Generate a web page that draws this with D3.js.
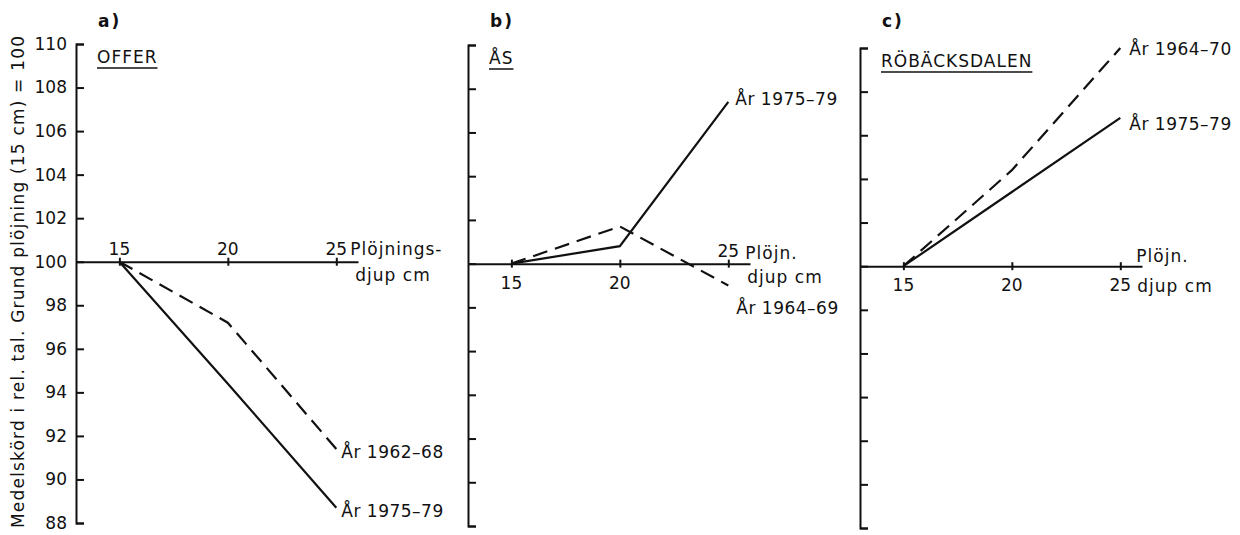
<!DOCTYPE html>
<html><head><meta charset="utf-8">
<script src="https://cdn.jsdelivr.net/npm/d3@7/dist/d3.min.js"></script>
<style>
body{margin:0;background:#fff}
text{font-family:"DejaVu Sans",sans-serif;font-size:17px;fill:#111}
</style>
</head><body>
<svg id="chart" width="1240" height="535"></svg>
<script>
// ---------- data ----------
const depths = [15, 20, 25];
const xTickValues = [15, 20, 25];
const yTickValues = [88, 90, 92, 94, 96, 98, 100, 102, 104, 106, 108, 110];
const yTitle = "Medelskörd i rel. tal. Grund plöjning (15 cm) = 100";
const panelLetters = ["a)", "b)", "c)"];
const siteNames = ["OFFER", "ÅS", "RÖBÄCKSDALEN"];
const offer1962_68 = [100, 97.2, 91.4];
const offer1975_79 = [100, 94.4, 88.7];
const as1975_79 = [100, 100.8, 107.4];
const as1964_69 = [100, 101.7, 99.0];
const rob1964_70 = [100, 104.4, 110.0];
const rob1975_79 = [100, 103.4, 106.8];
const seriesNames = ["År 1962–68", "År 1975–79", "År 1964–69", "År 1964–70"];

// ---------- layout ----------
const svg = d3.select("#chart");
const ink = "#111";
const xDomain = [13, 26];
const yDomain = [88, 110];

const panels = [
  {left: 76, top: 44, bottom: 523, letter: panelLetters[0], site: siteNames[0],
   series: [
     {v: offer1962_68, name: seriesNames[0], dash: true, dx: 5, dy: 9},
     {v: offer1975_79, name: seriesNames[1], dash: false, dx: 5, dy: 9}],
   tickLab: {15: "above", 20: "above", 25: "above"},
   unit1: {text: "Plöjnings-", dx: 14, dy: -7}, unit2: {text: "djup cm", dx: 19, dy: 19},
   yLabels: true},
  {left: 468, top: 45, bottom: 526, letter: panelLetters[1], site: siteNames[1],
   series: [
     {v: as1975_79, name: seriesNames[1], dash: false, dx: 7, dy: 3},
     {v: as1964_69, name: seriesNames[2], dash: true, dx: 8, dy: 28}],
   tickLab: {15: "below", 20: "below", 25: "above"},
   unit1: {text: "Plöjn.", dx: 17, dy: -5}, unit2: {text: "djup cm", dx: 19, dy: 19},
   yLabels: false},
  {left: 860, top: 48, bottom: 528, letter: panelLetters[2], site: siteNames[2],
   series: [
     {v: rob1964_70, name: seriesNames[3], dash: true, dx: 9, dy: 7},
     {v: rob1975_79, name: seriesNames[1], dash: false, dx: 9, dy: 12}],
   tickLab: {15: "below", 20: "below", 25: "below"},
   unit1: {text: "Plöjn.", dx: 16, dy: -4}, unit2: {text: "djup cm", dx: 17, dy: 26},
   yLabels: false}
];
const axisWidth = 282;

panels.forEach(p => {
  const g = svg.append("g").attr("transform", `translate(${p.left},0)`);
  const x = d3.scaleLinear().domain(xDomain).range([0, axisWidth]);
  const y = d3.scaleLinear().domain(yDomain).range([p.bottom, p.top]);
  const y0 = y(100);

  // y axis (ticks pointing inward/right)
  const ya = g.append("g")
    .call(d3.axisLeft(y).tickValues(yTickValues).tickSize(-8).tickPadding(9)
      .tickFormat(p.yLabels ? d3.format("d") : () => ""));
  ya.select(".domain").attr("stroke", ink).attr("stroke-width", 2);
  ya.selectAll(".tick line").attr("stroke", ink).attr("stroke-width", 2);
  ya.selectAll(".tick text").attr("fill", ink).style("font-size", "17px")
    .style("font-family", "'DejaVu Sans',sans-serif");

  // x axis at y=100 with crossing ticks
  const xa = g.append("g").attr("transform", `translate(0,${y0})`)
    .call(d3.axisBottom(x).tickValues(xTickValues).tickSizeInner(4).tickSizeOuter(0).tickFormat(""));
  xa.select(".domain").attr("stroke", ink).attr("stroke-width", 2);
  xa.selectAll(".tick line").attr("stroke", ink).attr("stroke-width", 2).attr("y1", -4);

  xTickValues.forEach(t => {
    const above = p.tickLab[t] === "above";
    g.append("text").attr("x", x(t)).attr("y", y0 + (above ? -7 : 25))
      .attr("text-anchor", "middle").text(t);
  });
  g.append("text").attr("x", x(25) + p.unit1.dx).attr("y", y0 + p.unit1.dy)
    .attr("letter-spacing", 1).text(p.unit1.text);
  g.append("text").attr("x", x(25) + p.unit2.dx).attr("y", y0 + p.unit2.dy)
    .attr("letter-spacing", 1).text(p.unit2.text);

  // panel letter and site name
  g.append("text").attr("x", 22).attr("y", 27).style("font-weight", "bold").attr("letter-spacing", 2).text(p.letter);
  const st = g.append("text").attr("x", 21).attr("y", p.top + 19).attr("letter-spacing", 1).text(p.site);
  const bb = st.node().getBBox();
  g.append("line").attr("x1", bb.x).attr("x2", bb.x + bb.width)
    .attr("y1", p.top + 24).attr("y2", p.top + 24).attr("stroke", ink).attr("stroke-width", 1.5);

  // series lines
  const line = d3.line().x((d, i) => x(depths[i])).y(d => y(d));
  p.series.forEach(s => {
    g.append("path").datum(s.v).attr("d", line).attr("fill", "none")
      .attr("stroke", ink).attr("stroke-width", 2.2)
      .attr("stroke-dasharray", s.dash ? "15,8" : null);
    const last = s.v[s.v.length - 1];
    g.append("text").attr("x", x(25) + s.dx).attr("y", y(last) + s.dy)
      .attr("letter-spacing", 0.5).text(s.name);
  });
});

// shared y title
svg.append("text").attr("transform", "translate(24,282) rotate(-90)")
  .attr("text-anchor", "middle").attr("textLength", 492).attr("lengthAdjust", "spacing")
  .text(yTitle);
</script>
</body></html>
